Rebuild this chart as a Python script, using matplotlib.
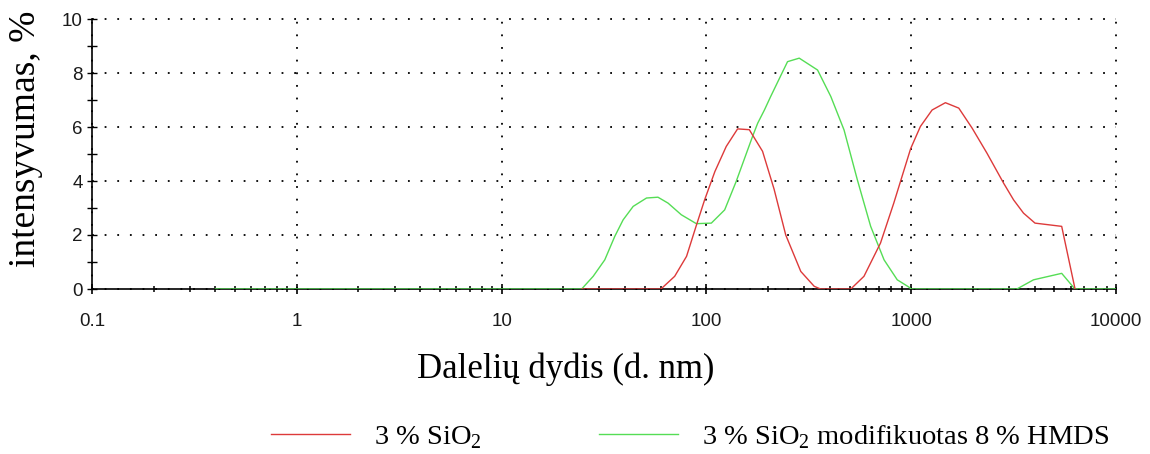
import matplotlib
matplotlib.use("Agg")
import matplotlib.pyplot as plt
from matplotlib.ticker import FixedLocator, LogLocator, NullFormatter, FixedFormatter

plt.rcParams["mathtext.fontset"] = "custom"
plt.rcParams["mathtext.rm"] = "Liberation Serif"

# particle size distribution (size in nm, intensity in %)
sizes_red = [24.6, 60, 70, 80, 89, 98, 110, 125, 142, 162, 188, 214, 244, 289,
             336, 361, 507, 588, 708, 822, 994, 1109, 1265, 1469, 1707, 1983,
             2344, 2826, 3162, 3535, 4023, 5430, 6310]
intensity_red = [0, 0, 0.47, 1.21, 2.32, 3.30, 4.35, 5.28, 5.93, 5.90, 5.10, 3.70,
                 2.00, 0.65, 0.10, 0, 0, 0.47, 1.70, 3.18, 5.20, 6.02, 6.63, 6.90,
                 6.70, 5.96, 5.03, 3.92, 3.30, 2.81, 2.44, 2.32, 0]

sizes_green = [0.4, 24.6, 28, 31.9, 35.7, 39.2, 43.9, 51, 58, 65, 75.4, 89.3,
               105.7, 122.8, 139.7, 168, 178, 192, 206, 249, 284, 349, 405, 470,
               546, 634, 737, 855, 975, 1000, 3281, 3955, 5430, 6300, 10000]
intensity_green = [0, 0, 0.47, 1.08, 1.95, 2.56, 3.06, 3.37, 3.40, 3.18, 2.75, 2.42,
                   2.44, 2.93, 3.98, 5.65, 6.14, 6.63, 7.13, 8.42, 8.55, 8.11, 7.13,
                   5.89, 4.04, 2.32, 1.08, 0.34, 0.07, 0, 0, 0.34, 0.58, 0, 0]

label_red = r"3 % SiO$_\mathregular{2}$"
label_green = r"3 % SiO$_\mathregular{2}$ modifikuotas 8 % HMDS"

x_ticks = [0.1, 1, 10, 100, 1000, 10000]
x_ticklabels = ["0.1", "1", "10", "100", "1000", "10000"]
y_ticks = [0, 2, 4, 6, 8, 10]

W, H = 1150, 454
fig = plt.figure(figsize=(W / 100, H / 100), dpi=100)
ax = fig.add_axes([92 / W, 1 - 289 / H, (1116 - 92) / W, (289 - 19) / H])

ax.plot(sizes_green, intensity_green, color="#55dd55", lw=1.0, label=label_green,
        zorder=3)
ax.plot(sizes_red, intensity_red, color="#dd3a3a", lw=1.0, label=label_red, zorder=4)

ax.set_xscale("log")
ax.set_xlim(0.1, 10000)
ax.set_ylim(0, 10)

ax.xaxis.set_major_locator(FixedLocator(x_ticks))
ax.xaxis.set_major_formatter(FixedFormatter(x_ticklabels))
ax.xaxis.set_minor_locator(LogLocator(base=10, subs=range(2, 10), numticks=20))
ax.xaxis.set_minor_formatter(NullFormatter())
ax.yaxis.set_major_locator(FixedLocator(y_ticks))
ax.yaxis.set_minor_locator(FixedLocator([1, 3, 5, 7, 9]))

for side in ("top", "right"):
    ax.spines[side].set_visible(False)
for side in ("left", "bottom"):
    ax.spines[side].set_linewidth(1.2)
    ax.spines[side].set_zorder(2)

ax.tick_params(which="both", direction="inout", color="black")
ax.tick_params(axis="x", which="major", length=7, width=1.2, pad=14, labelsize=13.5)
ax.tick_params(axis="x", which="minor", length=5, width=1.1)
ax.tick_params(axis="y", which="major", length=7, width=1.0, pad=3, labelsize=13.5)
ax.tick_params(axis="y", which="minor", length=7, width=1.0)
for lab in ax.get_xticklabels() + ax.get_yticklabels():
    lab.set_family("Liberation Sans")
    lab.set_color("#1a1a1a")

ax.grid(True, which="major", color="black", lw=1.3, linestyle=(0, (1, 6)))
for gl in ax.get_xgridlines() + ax.get_ygridlines():
    gl.set_clip_on(False)

fig.text(566 / W, 1 - 378 / H, "Dalelių dydis (d. nm)", family="Liberation Serif",
         size=25, ha="center", va="baseline")
fig.text(26 / W, 1 - 139 / H, "intensyvumas, %", family="Liberation Serif",
         size=27, ha="center", va="center", rotation=90)

handles, labels = ax.get_legend_handles_labels()
fig.legend(handles[::-1], labels[::-1], loc="center", bbox_to_anchor=(690 / W, 1 - 437 / H),
           ncol=2, frameon=False, prop={"family": "Liberation Serif", "size": 20.5},
           handlelength=2.77, handletextpad=0.84, columnspacing=4.1)

fig.savefig("out.png", dpi=100)
